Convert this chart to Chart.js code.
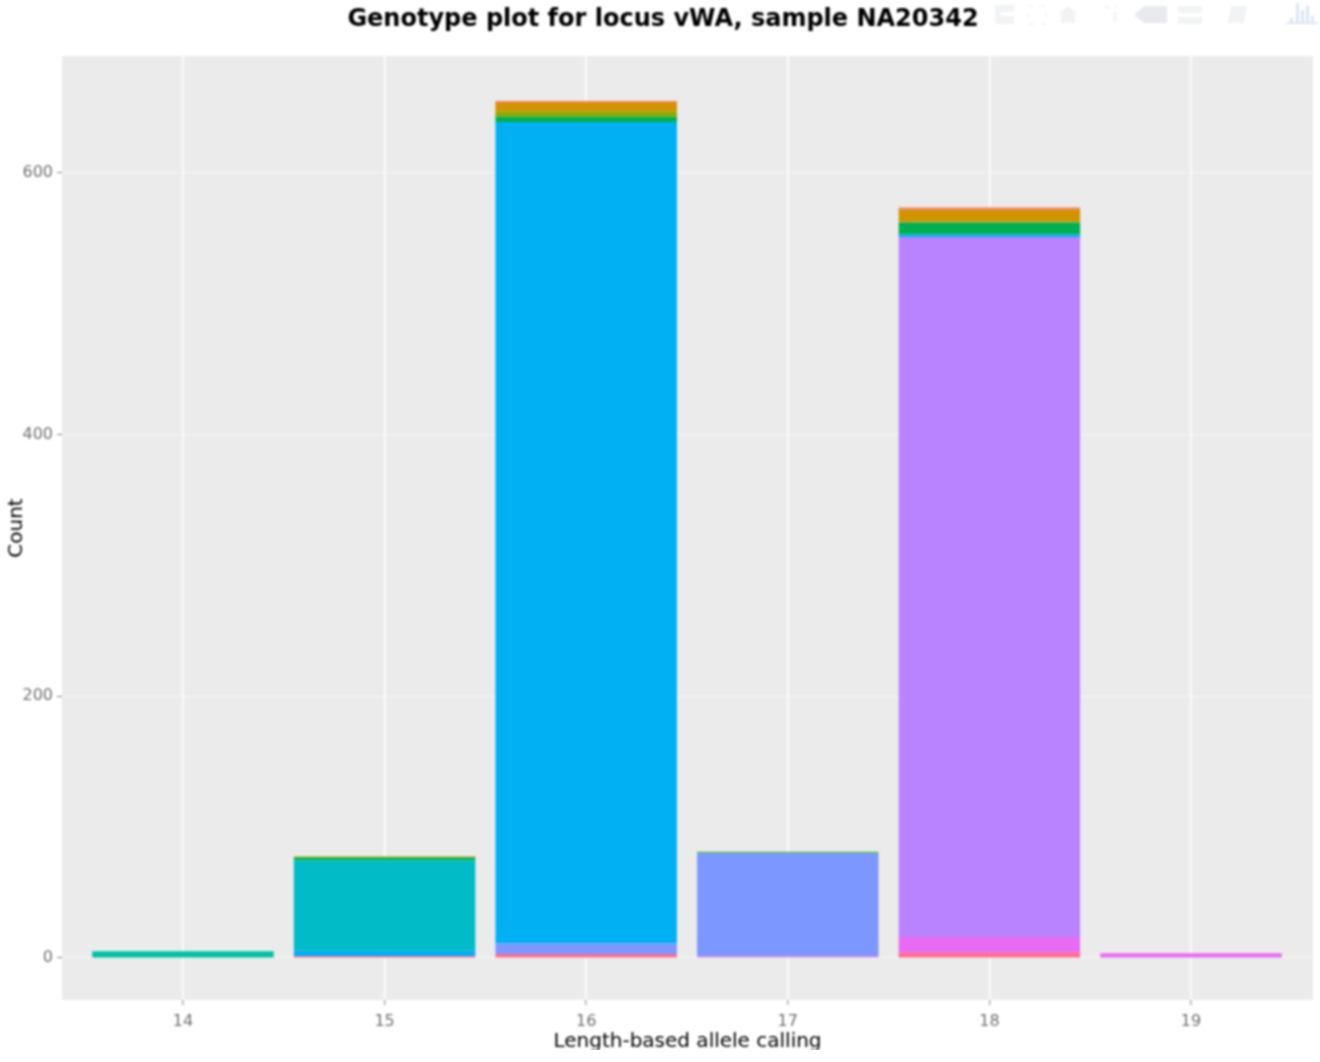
<!DOCTYPE html>
<html>
<head>
<meta charset="utf-8">
<title>Genotype plot</title>
<script src="https://cdn.jsdelivr.net/npm/chart.js@4"></script>
<style>
  html, body { margin: 0; padding: 0; background: #fff; }
  #wrap { position: relative; width: 1320px; height: 1050px; overflow: hidden; }
  #myChart { position: absolute; left: 0; top: 0; filter: blur(0.8px); }
  #modebar { position: absolute; left: 0; top: 0; filter: blur(0.8px); opacity: 0.8; }
</style>
</head>
<body>
<div id="wrap">
  <canvas id="myChart" width="1313" height="1050" style="width:1313px;height:1050px"></canvas>
  <svg id="modebar" width="1320" height="30">
    <path d="M995 5h19v7h-14v4h14v8h-19z" fill="#eef0f3"/>
    <path d="M1028 6h18v18h-18z" fill="none" stroke="#f0f1f4" stroke-width="2" stroke-dasharray="5 7"/>
    <path d="M1058 15l10-9 10 9h-3v8h-14v-8z" fill="#eef0f3"/>
    <path d="M1105 7h5M1115 7h3M1115 12v10" stroke="#eef0f3" stroke-width="3" fill="none"/>
    <path d="M1134 15l10-9h23v17h-23z" fill="#e3e5ea"/>
    <path d="M1178 6h24v7h-24zM1178 17h24v7h-24z" fill="#eef0f3"/>
    <path d="M1231 6h16l-3 17h-16z" fill="#eef0f3"/>
    <path d="M1286 22h32v2h-32zM1290 18h3v4h-3zM1296 3h3v19h-3zM1301 10h3v12h-3zM1306 6h3v16h-3zM1311 16h3v6h-3z" fill="#d5e0f3"/>
  </svg>
</div>
<script>
const alleles = [14, 15, 16, 17, 18, 19];
const yTickValues = [0, 200, 400, 600];

// stack order is bottom to top
const rose    = [0, 1.5, 3, 0.5, 4, 0];
const magenta = [0, 0, 0, 0.5, 12, 3.5];
const purple  = [0, 0, 0, 0, 535, 0];
const blueish = [0, 0, 8, 79, 0, 0];
const skyblue = [0, 4, 628, 0, 2, 0];
const teal    = [0, 69, 0, 0, 0, 0];
const seagreen = [5, 0, 0, 0, 0, 0];
const green   = [0, 2, 4, 0.7, 9, 0];
const olive   = [0, 1, 4, 0.5, 1, 0];
const gold    = [0, 0, 7, 0, 9, 0];
const salmon  = [0, 0, 1, 0, 1.5, 0];

function stackSeries(data, color) {
  return { data: data, backgroundColor: color, borderWidth: 0, barPercentage: 0.9, categoryPercentage: 1 };
}

const panelBackground = {
  id: 'panelBackground',
  beforeDraw(chart) {
    const a = chart.chartArea, c = chart.ctx;
    c.save();
    c.fillStyle = '#ebebeb';
    c.fillRect(a.left, a.top, a.width, a.height);
    c.restore();
  }
};

const ctx = document.getElementById('myChart').getContext('2d');
const chart = new Chart(ctx, {
  type: 'bar',
  plugins: [panelBackground],
  data: {
    labels: alleles,
    datasets: [
      stackSeries(rose, '#ff6c91'),
      stackSeries(magenta, '#e76bf3'),
      stackSeries(purple, '#b983ff'),
      stackSeries(blueish, '#7c97ff'),
      stackSeries(skyblue, '#00b0f3'),
      stackSeries(teal, '#00bcc6'),
      stackSeries(seagreen, '#00c1a3'),
      stackSeries(green, '#00b050'),
      stackSeries(olive, '#8fa800'),
      stackSeries(gold, '#d39200'),
      stackSeries(salmon, '#f8766d')
    ]
  },
  options: {
    responsive: false,
    animation: false,
    layout: { padding: { left: 13, right: 0, top: 0, bottom: 0 } },
    plugins: {
      legend: { display: false },
      tooltip: { enabled: false },
      title: {
        display: true,
        text: 'Genotype plot for locus vWA, sample NA20342',
        color: '#000',
        font: { family: 'DejaVu Sans', size: 24, weight: 'bold', lineHeight: 1.2 },
        padding: { top: 5, bottom: 22.2 }
      }
    },
    scales: {
      x: {
        type: 'linear',
        stacked: true,
        offset: false,
        min: 13.4,
        max: 19.605,
        afterBuildTicks: s => { s.ticks = alleles.map(v => ({ value: v })); },
        afterFit: s => { s.height = 50; },
        border: { display: false },
        grid: { offset: false, color: '#fff', lineWidth: 1.6, tickColor: '#7f7f7f', tickLength: 5, tickWidth: 1 },
        ticks: { color: '#6f6f6f', font: { family: 'DejaVu Sans', size: 16 }, padding: 7, maxRotation: 0 },
        title: {
          display: true,
          text: 'Length-based allele calling',
          color: '#000',
          font: { family: 'DejaVu Sans', size: 20 },
          padding: { top: 0, bottom: -4 }
        }
      },
      y: {
        stacked: true,
        min: -32.2,
        max: 689.4,
        afterBuildTicks: s => { s.ticks = yTickValues.map(v => ({ value: v })); },
        afterFit: s => { s.width = 49; },
        border: { display: false },
        grid: { color: '#f8f8f8', lineWidth: 1, tickColor: '#7f7f7f', tickLength: 5, tickWidth: 1 },
        ticks: { color: '#6f6f6f', font: { family: 'DejaVu Sans', size: 16 }, padding: 4 },
        title: {
          display: true,
          text: 'Count',
          color: '#000',
          font: { family: 'DejaVu Sans', size: 20 },
          padding: { top: -8, bottom: 0 }
        }
      }
    }
  }
});
</script>
</body>
</html>
